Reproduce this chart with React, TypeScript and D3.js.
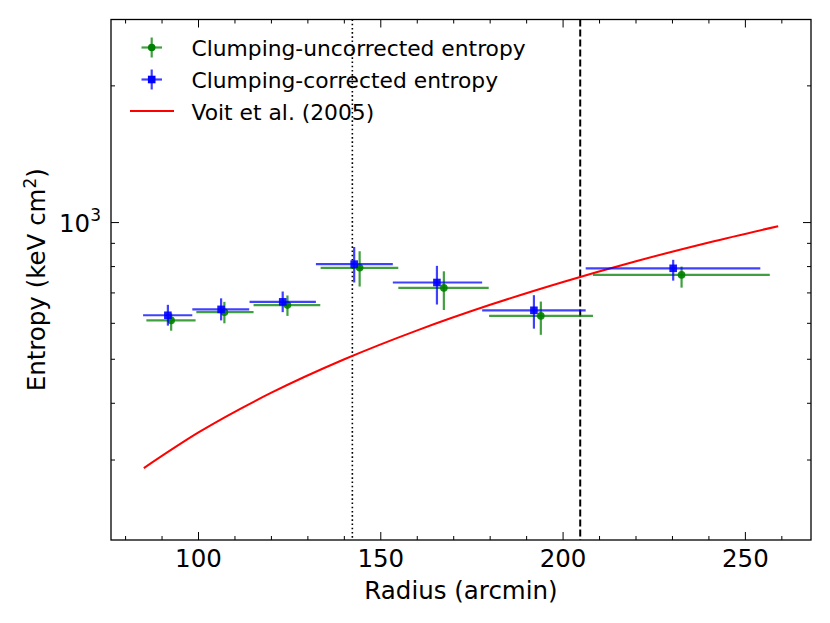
import * as d3 from 'd3';

// Clumping-corrected entropy (blue squares)
const radiusBlue = [91.6, 106.2, 123.1, 142.7, 165.4, 192.0, 230.2];
const radiusLoBlue = [84.8, 98.3, 114.0, 132.2, 153.3, 177.8, 206.2];
const radiusHiBlue = [98.3, 113.9, 132.2, 153.3, 177.8, 206.2, 254.1];
const entropyBlue = [625, 644, 669, 810, 738, 641, 793];
const entropyLoBlue = [593, 609, 635, 738, 660, 584, 745];
const entropyHiBlue = [659, 681, 705, 883, 803, 692, 828];

// Clumping-uncorrected entropy (green circles)
const radiusGreen = [92.5, 107.1, 124.4, 144.2, 167.3, 193.9, 232.5];
const radiusLoGreen = [85.7, 99.4, 115.1, 133.5, 154.8, 179.7, 208.2];
const radiusHiGreen = [99.2, 115.1, 133.4, 154.8, 179.6, 208.2, 256.7];
const entropyGreen = [609, 635, 658, 795, 718, 623, 767];
const entropyLoGreen = [578, 600, 623, 723, 642, 566, 719];
const entropyHiGreen = [631, 669, 691, 865, 781, 670, 800];

// Voit et al. (2005) baseline
const voitRadius = [85, 100, 120, 140, 160, 180, 200, 220, 240, 259];
const voitEntropy = [288, 345, 422, 500, 579, 659, 740, 822, 904, 982];

const dottedRadius = 142.2;
const dashedRadius = 204.7;

const xMajorTicks = [100, 150, 200, 250];
const xMinorTicks = [80, 90, 110, 120, 130, 140, 160, 170, 180, 190, 210, 220, 230, 240, 260];
const yMajorTicks = [1000];
const yMinorTicks = [300, 400, 500, 600, 700, 800, 900, 2000];

const legendLabels = ['Clumping-uncorrected entropy', 'Clumping-corrected entropy', 'Voit et al. (2005)'];

const W = 830;
const H = 623;
const margin = { top: 19.5, right: 19, bottom: 83, left: 111 };
const FONT = '"DejaVu Sans", sans-serif';

interface Series {
    r: number[]; rLo: number[]; rHi: number[];
    k: number[]; kLo: number[]; kHi: number[];
}

export default function App() {
    const x = d3.scaleLinear().domain([76, 268]).range([margin.left, W - margin.right]);
    const y = d3.scaleLog().domain([200, 2800]).range([H - margin.bottom, margin.top]);
    const x0 = x.range()[0], x1 = x.range()[1];
    const y0 = y.range()[0], y1 = y.range()[1];

    const voitLine = d3.line<number>()
        .x((_, i) => x(voitRadius[i]))
        .y(d => y(d))
        .curve(d3.curveMonotoneX);

    const green: Series = { r: radiusGreen, rLo: radiusLoGreen, rHi: radiusHiGreen, k: entropyGreen, kLo: entropyLoGreen, kHi: entropyHiGreen };
    const blue: Series = { r: radiusBlue, rLo: radiusLoBlue, rHi: radiusHiBlue, k: entropyBlue, kLo: entropyLoBlue, kHi: entropyHiBlue };

    const errorBars = (s: Series, color: string) =>
        s.r.map((r, i) => (
            <g key={i} stroke={color} strokeOpacity={0.75} strokeWidth={2.2}>
                <line x1={x(s.rLo[i])} x2={x(s.rHi[i])} y1={y(s.k[i])} y2={y(s.k[i])} />
                <line x1={x(r)} x2={x(r)} y1={y(s.kLo[i])} y2={y(s.kHi[i])} />
            </g>
        ));

    const legendY = [47.5, 79.5, 111];

    return (
        <svg width={W} height={H} style={{ position: 'absolute', left: 0, top: 0, background: '#fff' }} fontFamily={FONT}>
            <defs>
                <clipPath id="plot-clip">
                    <rect x={x0} y={y1} width={x1 - x0} height={y0 - y1} />
                </clipPath>
            </defs>

            <g clipPath="url(#plot-clip)">
                {/* reference radii */}
                <line x1={x(dottedRadius)} x2={x(dottedRadius)} y1={y1} y2={y0}
                    stroke="#000" strokeWidth={1.6} strokeDasharray="1.6,2.6" />
                <line x1={x(dashedRadius)} x2={x(dashedRadius)} y1={y1} y2={y0}
                    stroke="#000" strokeWidth={2} strokeDasharray="7,3" />

                <path d={voitLine(voitEntropy) ?? ''} fill="none" stroke="#ff0000" strokeWidth={2} />

                {errorBars(green, '#008000')}
                {green.r.map((r, i) => (
                    <circle key={i} cx={x(r)} cy={y(green.k[i])} r={3.8} fill="#008000" fillOpacity={0.9} />
                ))}
                {errorBars(blue, '#0000ff')}
                {blue.r.map((r, i) => (
                    <rect key={i} x={x(r) - 3.8} y={y(blue.k[i]) - 3.8} width={7.6} height={7.6} fill="#0000ff" fillOpacity={0.9} />
                ))}
            </g>

            {/* frame */}
            <rect x={x0} y={y1} width={x1 - x0} height={y0 - y1} fill="none" stroke="#000" strokeWidth={1.3} />

            {/* ticks, pointing inward on all four sides */}
            <g stroke="#000" strokeWidth={1}>
                {xMajorTicks.map(t => (
                    <g key={t}>
                        <line x1={x(t)} x2={x(t)} y1={y0} y2={y0 - 8} />
                        <line x1={x(t)} x2={x(t)} y1={y1} y2={y1 + 8} />
                    </g>
                ))}
                {xMinorTicks.map(t => (
                    <g key={t}>
                        <line x1={x(t)} x2={x(t)} y1={y0} y2={y0 - 4} />
                        <line x1={x(t)} x2={x(t)} y1={y1} y2={y1 + 4} />
                    </g>
                ))}
                {yMajorTicks.map(t => (
                    <g key={t}>
                        <line x1={x0} x2={x0 + 8} y1={y(t)} y2={y(t)} />
                        <line x1={x1} x2={x1 - 8} y1={y(t)} y2={y(t)} />
                    </g>
                ))}
                {yMinorTicks.map(t => (
                    <g key={t}>
                        <line x1={x0} x2={x0 + 4} y1={y(t)} y2={y(t)} />
                        <line x1={x1} x2={x1 - 4} y1={y(t)} y2={y(t)} />
                    </g>
                ))}
            </g>

            {/* tick labels */}
            {xMajorTicks.map(t => (
                <text key={t} x={x(t)} y={567} textAnchor="middle" fontSize={24.5} fill="#000">{t}</text>
            ))}
            {yMajorTicks.map(t => (
                <text key={t} x={101} y={y(t) + 9} textAnchor="end" fontSize={24.5} fill="#000">
                    10<tspan dy={-10.5} fontSize={17}>{Math.round(Math.log10(t))}</tspan>
                </text>
            ))}

            {/* axis labels */}
            <text x={(x0 + x1) / 2} y={598.5} textAnchor="middle" fontSize={24.5} fill="#000">Radius (arcmin)</text>
            <text transform={`translate(45,${(y0 + y1) / 2}) rotate(-90)`} textAnchor="middle" fontSize={24.5} fill="#000">
                Entropy (keV cm<tspan dy={-9.5} fontSize={17}>2</tspan><tspan dy={9.5}>)</tspan>
            </text>

            {/* legend */}
            <g>
                <g stroke="#008000" strokeOpacity={0.75} strokeWidth={2.2}>
                    <line x1={141.5} x2={162} y1={legendY[0]} y2={legendY[0]} />
                    <line x1={151.7} x2={151.7} y1={legendY[0] - 10} y2={legendY[0] + 10} />
                </g>
                <circle cx={151.7} cy={legendY[0]} r={3.8} fill="#008000" />
                <g stroke="#0000ff" strokeOpacity={0.75} strokeWidth={2.2}>
                    <line x1={141.5} x2={162} y1={legendY[1]} y2={legendY[1]} />
                    <line x1={151.7} x2={151.7} y1={legendY[1] - 10} y2={legendY[1] + 10} />
                </g>
                <rect x={151.7 - 3.8} y={legendY[1] - 3.8} width={7.6} height={7.6} fill="#0000ff" />
                <line x1={130} x2={174} y1={legendY[2]} y2={legendY[2]} stroke="#ff0000" strokeWidth={2} />
                {legendLabels.map((label, i) => (
                    <text key={label} x={191.5} y={legendY[i] + 8.5} fontSize={21.8} fill="#000">{label}</text>
                ))}
            </g>
        </svg>
    );
}
